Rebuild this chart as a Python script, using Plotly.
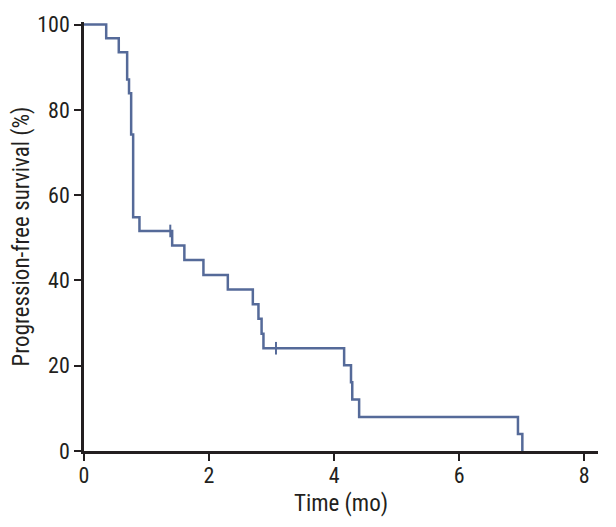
import plotly.graph_objects as go

# Kaplan-Meier step data (time in months, survival %)
times = [0, 0.355, 0.556, 0.69, 0.72, 0.754, 0.786, 0.887, 1.41, 1.605, 1.91, 2.30,
         2.70, 2.79, 2.84, 2.87, 4.16, 4.27, 4.29, 4.40, 6.94, 7.01]
survival = [100, 96.8, 93.5, 87.1, 83.9, 74.2, 54.8, 51.6, 48.2, 44.8, 41.3, 37.9,
            34.4, 31.0, 27.5, 24.1, 20.1, 16.1, 12.1, 8.0, 4.0, 0]

censor_times = [1.38, 3.07]
censor_values = [51.6, 24.1]

x_ticks = [0, 2, 4, 6, 8]
y_ticks = [0, 20, 40, 60, 80, 100]

line_color = "#556a99"
font_family = "Roboto Condensed, DejaVu Sans Condensed, sans-serif"

fig = go.Figure()
fig.add_trace(go.Scatter(
    x=times, y=survival, mode="lines", line=dict(color=line_color, width=2.5, shape="hv"),
    showlegend=False, hoverinfo="skip"))
fig.add_trace(go.Scatter(
    x=censor_times, y=censor_values, mode="markers",
    marker=dict(symbol="line-ns", size=9, line=dict(color=line_color, width=2)),
    showlegend=False, hoverinfo="skip"))

fig.update_layout(
    width=616, height=527,
    margin=dict(l=75.5, r=26, t=13.7, b=84.3),
    plot_bgcolor="white", paper_bgcolor="white",
    font=dict(family=font_family, size=22, color="#231f20"),
    xaxis=dict(
        range=[0, 8.22], tickvals=x_ticks, ticks="outside", ticklen=7, tickwidth=2,
        tickcolor="#231f20", showline=True, linecolor="#231f20", linewidth=2.5,
        showgrid=False, zeroline=False, automargin=False, ticklabelstandoff=-4,
        title=dict(text="Time (mo)", standoff=8, font=dict(size=23)),
        tickfont=dict(size=22)),
    yaxis=dict(
        range=[0, 100.6], tickvals=y_ticks, ticks="outside", ticklen=7, tickwidth=2,
        tickcolor="#231f20", showline=True, linecolor="#231f20", linewidth=2.5,
        showgrid=False, zeroline=False, automargin=False,
        title=dict(text="Progression-free survival (%)", standoff=6, font=dict(size=23)),
        tickfont=dict(size=22)),
)

fig.write_html("out.html")
